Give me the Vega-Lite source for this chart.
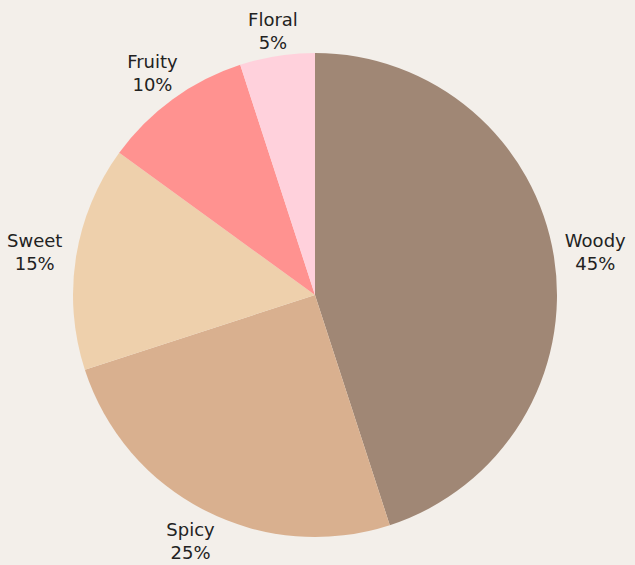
{
  "$schema": "https://vega.github.io/schema/vega-lite/v6.json",
  "autosize": "none",
  "width": 630,
  "height": 540,
  "padding": {"left": 0, "top": 25, "right": 5, "bottom": 0},
  "background": "#f3efea",
  "config": {"view": {"stroke": null}},
  "data": {
    "values": [
      {"category": "Woody", "value": 45, "order": 1},
      {"category": "Spicy", "value": 25, "order": 2},
      {"category": "Sweet", "value": 15, "order": 3},
      {"category": "Fruity", "value": 10, "order": 4},
      {"category": "Floral", "value": 5, "order": 5}
    ]
  },
  "transform": [
    {"calculate": "datum.category + '\\n' + datum.value + '%'", "as": "label"},
    {"window": [{"op": "sum", "field": "value", "as": "cum"}], "sort": [{"field": "order"}]},
    {"calculate": "(datum.cum - datum.value / 2) / 100 * 2 * PI", "as": "midAngle"},
    {"calculate": "266 + 18 * abs(sin(datum.midAngle))", "as": "labelRadius"}
  ],
  "layer": [
    {
      "mark": {"type": "arc", "outerRadius": 242},
      "encoding": {
        "theta": {"field": "value", "type": "quantitative", "stack": true},
        "order": {"field": "order", "type": "quantitative"},
        "color": {
          "field": "category",
          "type": "nominal",
          "scale": {
            "domain": ["Woody", "Spicy", "Sweet", "Fruity", "Floral"],
            "range": ["#a08775", "#d9b08f", "#eed0ac", "#ff9290", "#ffd1dc"]
          },
          "legend": null
        }
      }
    },
    {
      "mark": {"type": "text", "dy": -8.5, "fontSize": 18, "font": "DejaVu Sans", "color": "#222222", "lineBreak": "\n", "baseline": "middle", "lineHeight": 23},
      "encoding": {
        "theta": {"field": "midAngle", "type": "quantitative", "scale": null, "stack": false},
        "radius": {"field": "labelRadius", "type": "quantitative", "scale": null},
        "text": {"field": "label", "type": "nominal"}
      }
    }
  ]
}
